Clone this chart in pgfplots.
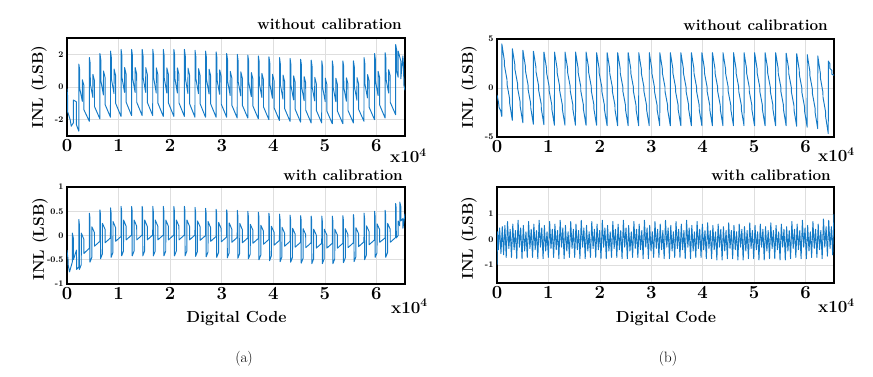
\documentclass[border=0pt]{standalone}
\usepackage{fontspec}
\usepackage{pgfplots}
\pgfplotsset{compat=1.18}
\definecolor{mblue}{RGB}{20,122,198}
\definecolor{gridgray}{RGB}{222,222,222}
\newcommand\ttl{\fontsize{15.3}{16}\selectfont\bfseries}
\newcommand\ylab{\fontsize{15.5}{16}\selectfont\bfseries}
\newcommand\xlab{\fontsize{16}{17}\selectfont\bfseries}
\newcommand\xten{\fontsize{17}{18}\selectfont\bfseries}
% x axis is in units of one 2048-code period (32 periods = 65536 codes)
\pgfplotsset{inlax/.style={
  scale only axis, width=338pt,
  xmin=0, xmax=32,
  xtick={0,4.8828125,9.765625,14.6484375,19.53125,24.4140625,29.296875},
  xticklabels={0,1,2,3,4,5,6},
  grid=major, major grid style={draw=gridgray, line width=0.6pt},
  axis line style={line width=2pt},
  major tick length=0pt,
  xticklabel style={font=\fontsize{18.5}{18.5}\selectfont\bfseries},
  yticklabel style={font=\fontsize{8.6}{9}\selectfont\bfseries},
}}
\tikzset{inl/.style={draw=mblue, line width=0.95pt, mark=none, line join=round}}
\begin{document}
\begin{tikzpicture}
\path[use as bounding box] (0,0) rectangle (873pt,-377pt);
% ---------------- (a) without calibration
\begin{axis}[inlax, at={(67pt,-38pt)}, anchor=north west, height=98pt,
  ymin=-3, ymax=3, ytick={-2,0,2}, yticklabels={-2,0,2}]
\addplot[inl] coordinates {
(0,-0.1) (0.05,-0.5) (0.055,-1.5) (0.3,-2.0) (0.4,-2.4) (0.6,-2.2) (0.605,-0.8) (0.88,-0.9) (0.885,-2.3) (1.115,-2.7)
(1.12,1.4) (1.2,1.05) (1.205,-0.09) (1.45,-0.88) (1.455,0.44) (1.6,0.09) (1.605,-1.4) (2.115,-2.1)
(2.12,1.8) (2.2,1.43) (2.205,0.21) (2.45,-0.64) (2.455,0.77) (2.6,0.39) (2.605,-1.2) (3.115,-1.95)
(3.12,2.05) (3.2,1.66) (3.205,0.39) (3.45,-0.49) (3.455,0.98) (3.6,0.59) (3.605,-1.07) (4.115,-1.85)
(4.12,2.2) (4.2,1.8) (4.205,0.5) (4.45,-0.4) (4.455,1.1) (4.6,0.7) (4.605,-1.0) (5.115,-1.8)
(5.12,2.3) (5.2,1.9) (5.205,0.58) (5.45,-0.33) (5.455,1.19) (5.6,0.78) (5.605,-0.94) (6.115,-1.75)
(6.12,2.3) (6.2,1.9) (6.205,0.58) (6.45,-0.33) (6.455,1.19) (6.6,0.78) (6.605,-0.94) (7.115,-1.75)
(7.12,2.3) (7.2,1.9) (7.205,0.58) (7.45,-0.33) (7.455,1.19) (7.6,0.78) (7.605,-0.94) (8.115,-1.75)
(8.12,2.3) (8.2,1.89) (8.205,0.56) (8.45,-0.37) (8.455,1.17) (8.6,0.76) (8.605,-0.98) (9.115,-1.8)
(9.12,2.3) (9.2,1.89) (9.205,0.56) (9.45,-0.37) (9.455,1.17) (9.6,0.76) (9.605,-0.98) (10.115,-1.8)
(10.12,2.3) (10.2,1.89) (10.205,0.56) (10.45,-0.37) (10.455,1.17) (10.6,0.76) (10.605,-0.98) (11.115,-1.8)
(11.12,2.3) (11.2,1.89) (11.205,0.54) (11.45,-0.4) (11.455,1.16) (11.6,0.74) (11.605,-1.02) (12.115,-1.85)
(12.12,2.25) (12.2,1.84) (12.205,0.51) (12.45,-0.41) (12.455,1.12) (12.6,0.71) (12.605,-1.03) (13.115,-1.85)
(13.12,2.2) (13.2,1.8) (13.205,0.48) (13.45,-0.43) (13.455,1.09) (13.6,0.68) (13.605,-1.04) (14.115,-1.85)
(14.12,2.15) (14.2,1.75) (14.205,0.45) (14.45,-0.45) (14.455,1.05) (14.6,0.65) (14.605,-1.05) (15.115,-1.85)
(15.12,2.05) (15.2,1.66) (15.205,0.37) (15.45,-0.52) (15.455,0.96) (15.6,0.57) (15.605,-1.11) (16.115,-1.9)
(16.12,2.0) (16.2,1.61) (16.205,0.34) (16.45,-0.54) (16.455,0.93) (16.6,0.54) (16.605,-1.12) (17.115,-1.9)
(17.12,1.95) (17.2,1.56) (17.205,0.29) (17.45,-0.59) (17.455,0.88) (17.6,0.49) (17.605,-1.17) (18.115,-1.95)
(18.12,1.9) (18.2,1.51) (18.205,0.24) (18.45,-0.64) (18.455,0.83) (18.6,0.44) (18.605,-1.22) (19.115,-2.0)
(19.12,1.85) (19.2,1.46) (19.205,0.19) (19.45,-0.69) (19.455,0.78) (19.6,0.39) (19.605,-1.27) (20.115,-2.05)
(20.12,1.8) (20.2,1.41) (20.205,0.14) (20.45,-0.74) (20.455,0.73) (20.6,0.34) (20.605,-1.32) (21.115,-2.1)
(21.12,1.75) (21.2,1.36) (21.205,0.09) (21.45,-0.79) (21.455,0.68) (21.6,0.29) (21.605,-1.37) (22.115,-2.15)
(22.12,1.7) (22.2,1.31) (22.205,0.04) (22.45,-0.84) (22.455,0.63) (22.6,0.24) (22.605,-1.42) (23.115,-2.2)
(23.12,1.65) (23.2,1.27) (23.205,0.01) (23.45,-0.85) (23.455,0.59) (23.6,0.21) (23.605,-1.43) (24.115,-2.2)
(24.12,1.6) (24.2,1.22) (24.205,-0.04) (24.45,-0.9) (24.455,0.54) (24.6,0.16) (24.605,-1.48) (25.115,-2.25)
(25.12,1.6) (25.2,1.22) (25.205,-0.04) (25.45,-0.9) (25.455,0.54) (25.6,0.16) (25.605,-1.48) (26.115,-2.25)
(26.12,1.6) (26.2,1.22) (26.205,-0.02) (26.45,-0.87) (26.455,0.56) (26.6,0.18) (26.605,-1.44) (27.115,-2.2)
(27.12,1.6) (27.2,1.23) (27.205,0.03) (27.45,-0.81) (27.455,0.58) (27.6,0.21) (27.605,-1.36) (28.115,-2.1)
(28.12,1.8) (28.2,1.42) (28.205,0.19) (28.45,-0.67) (28.455,0.76) (28.6,0.38) (28.605,-1.24) (29.115,-2.0)
(29.12,2.05) (29.2,1.66) (29.205,0.37) (29.45,-0.52) (29.455,0.96) (29.6,0.57) (29.605,-1.11) (30.115,-1.9)
(30.12,2.1) (30.2,1.72) (30.205,0.49) (30.45,-0.37) (30.455,1.06) (30.6,0.68) (30.605,-0.94) (31.115,-1.7)
(31.12,2.6) (31.2,2.3) (31.205,1.0) (31.35,0.6) (31.355,2.2) (31.6,1.6) (31.605,0.5) (31.8,1.9) (31.85,1.4) (31.9,0.1) (32,-0.2)
};
\end{axis}
% ---------------- (a) with calibration
\begin{axis}[inlax, at={(67pt,-187pt)}, anchor=north west, height=97pt,
  ymin=-1, ymax=1, ytick={-1,-0.5,0,0.5,1}, yticklabels={-1,-0.5,0,0.5,1}]
\addplot[inl] coordinates {
(0,-0.3) (0.1,-0.5) (0.105,-0.6) (0.24,-0.75) (0.5,-0.55) (0.505,0.05) (0.6,-0.05) (0.605,-0.5) (0.9,-0.3) (0.905,-0.7) (1.115,-0.65)
(1.12,0.33) (1.17,0.23) (1.175,-0.7) (1.35,-0.6) (1.355,0.05) (1.6,-0.08) (1.605,-0.37) (2.115,-0.26)
(2.12,0.46) (2.17,0.36) (2.175,-0.55) (2.35,-0.45) (2.355,0.18) (2.6,0.06) (2.605,-0.22) (3.115,-0.12)
(3.12,0.53) (3.17,0.43) (3.175,-0.48) (3.35,-0.38) (3.355,0.25) (3.6,0.13) (3.605,-0.15) (4.115,-0.05)
(4.12,0.57) (4.17,0.47) (4.175,-0.45) (4.35,-0.35) (4.355,0.29) (4.6,0.16) (4.605,-0.12) (5.115,-0.02)
(5.12,0.6) (5.17,0.5) (5.175,-0.42) (5.35,-0.32) (5.355,0.32) (5.6,0.19) (5.605,-0.09) (6.115,0.01)
(6.12,0.6) (6.17,0.5) (6.175,-0.42) (6.35,-0.32) (6.355,0.32) (6.6,0.19) (6.605,-0.09) (7.115,0.01)
(7.12,0.6) (7.17,0.5) (7.175,-0.42) (7.35,-0.32) (7.355,0.32) (7.6,0.19) (7.605,-0.09) (8.115,0.01)
(8.12,0.6) (8.17,0.5) (8.175,-0.42) (8.35,-0.32) (8.355,0.32) (8.6,0.19) (8.605,-0.09) (9.115,0.01)
(9.12,0.6) (9.17,0.5) (9.175,-0.42) (9.35,-0.32) (9.355,0.32) (9.6,0.19) (9.605,-0.09) (10.115,0.01)
(10.12,0.6) (10.17,0.5) (10.175,-0.42) (10.35,-0.32) (10.355,0.32) (10.6,0.19) (10.605,-0.09) (11.115,0.01)
(11.12,0.6) (11.17,0.5) (11.175,-0.42) (11.35,-0.32) (11.355,0.32) (11.6,0.19) (11.605,-0.09) (12.115,0.01)
(12.12,0.58) (12.17,0.48) (12.175,-0.43) (12.35,-0.33) (12.355,0.3) (12.6,0.18) (12.605,-0.1) (13.115,0.0)
(13.12,0.56) (13.17,0.46) (13.175,-0.44) (13.35,-0.34) (13.355,0.29) (13.6,0.16) (13.605,-0.12) (14.115,-0.02)
(14.12,0.54) (14.17,0.44) (14.175,-0.45) (14.35,-0.35) (14.355,0.27) (14.6,0.14) (14.605,-0.13) (15.115,-0.03)
(15.12,0.53) (15.17,0.43) (15.175,-0.46) (15.35,-0.36) (15.355,0.26) (15.6,0.13) (15.605,-0.14) (16.115,-0.04)
(16.12,0.52) (16.17,0.42) (16.175,-0.47) (16.35,-0.37) (16.355,0.25) (16.6,0.12) (16.605,-0.15) (17.115,-0.05)
(17.12,0.5) (17.17,0.4) (17.175,-0.48) (17.35,-0.38) (17.355,0.23) (17.6,0.11) (17.605,-0.16) (18.115,-0.06)
(18.12,0.48) (18.17,0.38) (18.175,-0.5) (18.35,-0.4) (18.355,0.21) (18.6,0.09) (18.605,-0.18) (19.115,-0.08)
(19.12,0.46) (19.17,0.36) (19.175,-0.52) (19.35,-0.42) (19.355,0.19) (19.6,0.07) (19.605,-0.2) (20.115,-0.1)
(20.12,0.44) (20.17,0.34) (20.175,-0.54) (20.35,-0.44) (20.355,0.17) (20.6,0.05) (20.605,-0.22) (21.115,-0.12)
(21.12,0.42) (21.17,0.32) (21.175,-0.55) (21.35,-0.45) (21.355,0.15) (21.6,0.03) (21.605,-0.24) (22.115,-0.14)
(22.12,0.41) (22.17,0.31) (22.175,-0.57) (22.35,-0.47) (22.355,0.14) (22.6,0.02) (22.605,-0.25) (23.115,-0.15)
(23.12,0.4) (23.17,0.3) (23.175,-0.58) (23.35,-0.48) (23.355,0.13) (23.6,0.01) (23.605,-0.26) (24.115,-0.16)
(24.12,0.4) (24.17,0.3) (24.175,-0.58) (24.35,-0.48) (24.355,0.13) (24.6,0.01) (24.605,-0.26) (25.115,-0.16)
(25.12,0.4) (25.17,0.3) (25.175,-0.58) (25.35,-0.48) (25.355,0.13) (25.6,0.01) (25.605,-0.26) (26.115,-0.16)
(26.12,0.41) (26.17,0.31) (26.175,-0.56) (26.35,-0.46) (26.355,0.14) (26.6,0.02) (26.605,-0.25) (27.115,-0.15)
(27.12,0.43) (27.17,0.33) (27.175,-0.54) (27.35,-0.44) (27.355,0.16) (27.6,0.04) (27.605,-0.23) (28.115,-0.13)
(28.12,0.46) (28.17,0.36) (28.175,-0.5) (28.35,-0.4) (28.355,0.2) (28.6,0.08) (28.605,-0.19) (29.115,-0.09)
(29.12,0.5) (29.17,0.4) (29.175,-0.45) (29.35,-0.36) (29.355,0.24) (29.6,0.12) (29.605,-0.14) (30.115,-0.05)
(30.12,0.52) (30.17,0.42) (30.175,-0.45) (30.35,-0.35) (30.355,0.25) (30.6,0.13) (30.605,-0.14) (31.115,-0.04)
(31.12,0.66) (31.17,0.55) (31.175,-0.05) (31.35,0.0) (31.355,0.3) (31.5,0.2) (31.505,0.69) (31.6,0.6) (31.605,0.3) (31.8,0.35) (31.805,0.15) (32,0.45)
};
\end{axis}
% ---------------- (b) without calibration
\begin{axis}[inlax, at={(497pt,-39pt)}, anchor=north west, width=337pt, height=98pt,
  ymin=-5, ymax=5, ytick={-5,0,5}, yticklabels={-5,0,5}]
\addplot[inl] coordinates {
(0,-0.7) (0.15,-1.5) (0.2,-2.0) (0.35,-2.3) (0.455,-2.9)
(0.46,4.5) (0.7,2.78) (0.705,2.32) (0.95,0.83) (0.955,0.37) (1.2,-1.12) (1.205,-1.58) (1.455,-3.3)
(1.46,4.0) (1.7,2.34) (1.705,1.89) (1.95,0.45) (1.955,0.0) (2.2,-1.44) (2.205,-1.89) (2.455,-3.55)
(2.46,3.85) (2.7,2.19) (2.705,1.74) (2.95,0.3) (2.955,-0.15) (3.2,-1.59) (3.205,-2.04) (3.455,-3.7)
(3.46,3.75) (3.7,2.1) (3.705,1.65) (3.95,0.23) (3.955,-0.23) (4.2,-1.65) (4.205,-2.1) (4.455,-3.75)
(4.46,3.67) (4.7,2.03) (4.705,1.58) (4.95,0.16) (4.955,-0.29) (5.2,-1.71) (5.205,-2.16) (5.455,-3.8)
(5.46,3.67) (5.7,2.03) (5.705,1.58) (5.95,0.16) (5.955,-0.29) (6.2,-1.71) (6.205,-2.16) (6.455,-3.8)
(6.46,3.67) (6.7,2.03) (6.705,1.58) (6.95,0.16) (6.955,-0.29) (7.2,-1.71) (7.205,-2.16) (7.455,-3.8)
(7.46,3.67) (7.7,2.03) (7.705,1.58) (7.95,0.16) (7.955,-0.29) (8.2,-1.71) (8.205,-2.16) (8.455,-3.8)
(8.46,3.67) (8.7,2.03) (8.705,1.58) (8.95,0.16) (8.955,-0.29) (9.2,-1.71) (9.205,-2.16) (9.455,-3.8)
(9.46,3.6) (9.7,1.96) (9.705,1.51) (9.95,0.1) (9.955,-0.35) (10.2,-1.76) (10.205,-2.21) (10.455,-3.85)
(10.46,3.6) (10.7,1.96) (10.705,1.51) (10.95,0.1) (10.955,-0.35) (11.2,-1.76) (11.205,-2.21) (11.455,-3.85)
(11.46,3.6) (11.7,1.96) (11.705,1.51) (11.95,0.1) (11.955,-0.35) (12.2,-1.76) (12.205,-2.21) (12.455,-3.85)
(12.46,3.6) (12.7,1.96) (12.705,1.51) (12.95,0.1) (12.955,-0.35) (13.2,-1.76) (13.205,-2.21) (13.455,-3.85)
(13.46,3.6) (13.7,1.96) (13.705,1.51) (13.95,0.1) (13.955,-0.35) (14.2,-1.76) (14.205,-2.21) (14.455,-3.85)
(14.46,3.6) (14.7,1.96) (14.705,1.51) (14.95,0.1) (14.955,-0.35) (15.2,-1.76) (15.205,-2.21) (15.455,-3.85)
(15.46,3.6) (15.7,1.96) (15.705,1.51) (15.95,0.1) (15.955,-0.35) (16.2,-1.76) (16.205,-2.21) (16.455,-3.85)
(16.46,3.6) (16.7,1.96) (16.705,1.51) (16.95,0.1) (16.955,-0.35) (17.2,-1.76) (17.205,-2.21) (17.455,-3.85)
(17.46,3.6) (17.7,1.96) (17.705,1.51) (17.95,0.1) (17.955,-0.35) (18.2,-1.76) (18.205,-2.21) (18.455,-3.85)
(18.46,3.6) (18.7,1.96) (18.705,1.51) (18.95,0.1) (18.955,-0.35) (19.2,-1.76) (19.205,-2.21) (19.455,-3.85)
(19.46,3.6) (19.7,1.96) (19.705,1.51) (19.95,0.1) (19.955,-0.35) (20.2,-1.76) (20.205,-2.21) (20.455,-3.85)
(20.46,3.6) (20.7,1.96) (20.705,1.51) (20.95,0.1) (20.955,-0.35) (21.2,-1.76) (21.205,-2.21) (21.455,-3.85)
(21.46,3.6) (21.7,1.96) (21.705,1.51) (21.95,0.1) (21.955,-0.35) (22.2,-1.76) (22.205,-2.21) (22.455,-3.85)
(22.46,3.6) (22.7,1.96) (22.705,1.51) (22.95,0.1) (22.955,-0.35) (23.2,-1.76) (23.205,-2.21) (23.455,-3.85)
(23.46,3.6) (23.7,1.96) (23.705,1.51) (23.95,0.1) (23.955,-0.35) (24.2,-1.76) (24.205,-2.21) (24.455,-3.85)
(24.46,3.6) (24.7,1.96) (24.705,1.51) (24.95,0.1) (24.955,-0.35) (25.2,-1.76) (25.205,-2.21) (25.455,-3.85)
(25.46,3.6) (25.7,1.96) (25.705,1.51) (25.95,0.1) (25.955,-0.35) (26.2,-1.76) (26.205,-2.21) (26.455,-3.85)
(26.46,3.6) (26.7,1.96) (26.705,1.51) (26.95,0.1) (26.955,-0.35) (27.2,-1.76) (27.205,-2.21) (27.455,-3.85)
(27.46,3.55) (27.7,1.91) (27.705,1.46) (27.95,0.05) (27.955,-0.4) (28.2,-1.81) (28.205,-2.26) (28.455,-3.9)
(28.46,3.5) (28.7,1.85) (28.705,1.4) (28.95,-0.03) (28.955,-0.48) (29.2,-1.9) (29.205,-2.35) (29.455,-4.0)
(29.46,3.4) (29.7,1.74) (29.705,1.29) (29.95,-0.15) (29.955,-0.6) (30.2,-2.04) (30.205,-2.49) (30.455,-4.15)
(30.46,3.27) (30.7,1.53) (30.705,1.05) (30.95,-0.45) (30.955,-0.93) (31.2,-2.43) (31.205,-2.91) (31.455,-4.65)
(31.46,2.75) (31.6,2.5) (31.605,2.0) (31.8,1.8) (31.805,1.4) (32,1.3)
};
\end{axis}
% ---------------- (b) with calibration
\begin{axis}[inlax, at={(497pt,-187pt)}, anchor=north west, width=337pt, height=96pt,
  ymin=-1.7, ymax=2.05, ytick={-1,0,1}, yticklabels={-1,0,1}]
\addplot[inl] coordinates {
(0,-1.0) (0.0625,0.3) (0.125,-0.4) (0.25,0.45) (0.375,-0.55) (0.5,0.5) (0.625,-0.6) (0.75,0.55) (0.875,-0.7)
(1,0.7) (1.125,-0.35) (1.25,0.4) (1.375,-0.7) (1.5,0.6) (1.625,-0.4) (1.75,0.35) (1.875,-0.75)
(2,0.75) (2.125,-0.3) (2.25,0.45) (2.375,-0.75) (2.5,0.55) (2.625,-0.45) (2.75,0.3) (2.875,-0.7)
(3,0.7) (3.125,-0.35) (3.25,0.4) (3.375,-0.7) (3.5,0.6) (3.625,-0.4) (3.75,0.35) (3.875,-0.75)
(4,0.75) (4.125,-0.3) (4.25,0.45) (4.375,-0.75) (4.5,0.55) (4.625,-0.45) (4.75,0.3) (4.875,-0.7)
(5,0.7) (5.125,-0.35) (5.25,0.4) (5.375,-0.7) (5.5,0.6) (5.625,-0.4) (5.75,0.35) (5.875,-0.75)
(6,0.75) (6.125,-0.3) (6.25,0.45) (6.375,-0.75) (6.5,0.55) (6.625,-0.45) (6.75,0.3) (6.875,-0.7)
(7,0.7) (7.125,-0.35) (7.25,0.4) (7.375,-0.7) (7.5,0.6) (7.625,-0.4) (7.75,0.35) (7.875,-0.75)
(8,0.75) (8.125,-0.3) (8.25,0.45) (8.375,-0.75) (8.5,0.55) (8.625,-0.45) (8.75,0.3) (8.875,-0.7)
(9,0.7) (9.125,-0.35) (9.25,0.4) (9.375,-0.7) (9.5,0.6) (9.625,-0.4) (9.75,0.35) (9.875,-0.75)
(10,0.75) (10.125,-0.3) (10.25,0.45) (10.375,-0.75) (10.5,0.55) (10.625,-0.45) (10.75,0.3) (10.875,-0.7)
(11,0.7) (11.125,-0.35) (11.25,0.4) (11.375,-0.7) (11.5,0.6) (11.625,-0.4) (11.75,0.35) (11.875,-0.75)
(12,0.75) (12.125,-0.3) (12.25,0.45) (12.375,-0.75) (12.5,0.55) (12.625,-0.45) (12.75,0.3) (12.875,-0.7)
(13,0.7) (13.125,-0.35) (13.25,0.4) (13.375,-0.7) (13.5,0.6) (13.625,-0.4) (13.75,0.35) (13.875,-0.75)
(14,0.75) (14.125,-0.3) (14.25,0.45) (14.375,-0.75) (14.5,0.55) (14.625,-0.45) (14.75,0.3) (14.875,-0.7)
(15,0.7) (15.125,-0.35) (15.25,0.4) (15.375,-0.7) (15.5,0.6) (15.625,-0.4) (15.75,0.35) (15.875,-0.75)
(16,0.75) (16.125,-0.3) (16.25,0.45) (16.375,-0.75) (16.5,0.55) (16.625,-0.45) (16.75,0.3) (16.875,-0.7)
(17,0.7) (17.125,-0.35) (17.25,0.4) (17.375,-0.7) (17.5,0.6) (17.625,-0.4) (17.75,0.35) (17.875,-0.75)
(18,0.75) (18.125,-0.3) (18.25,0.45) (18.375,-0.75) (18.5,0.55) (18.625,-0.45) (18.75,0.3) (18.875,-0.7)
(19,0.7) (19.125,-0.35) (19.25,0.4) (19.375,-0.7) (19.5,0.6) (19.625,-0.4) (19.75,0.35) (19.875,-0.75)
(20,0.65) (20.125,-0.35) (20.25,0.35) (20.375,-0.75) (20.5,0.55) (20.625,-0.4) (20.75,0.3) (20.875,-0.8)
(21,0.6) (21.125,-0.3) (21.25,0.4) (21.375,-0.8) (21.5,0.5) (21.625,-0.45) (21.75,0.35) (21.875,-0.75)
(22,0.65) (22.125,-0.35) (22.25,0.35) (22.375,-0.75) (22.5,0.55) (22.625,-0.4) (22.75,0.3) (22.875,-0.8)
(23,0.6) (23.125,-0.3) (23.25,0.4) (23.375,-0.8) (23.5,0.5) (23.625,-0.45) (23.75,0.35) (23.875,-0.75)
(24,0.65) (24.125,-0.35) (24.25,0.35) (24.375,-0.75) (24.5,0.55) (24.625,-0.4) (24.75,0.3) (24.875,-0.8)
(25,0.6) (25.125,-0.3) (25.25,0.4) (25.375,-0.8) (25.5,0.5) (25.625,-0.45) (25.75,0.35) (25.875,-0.75)
(26,0.65) (26.125,-0.35) (26.25,0.35) (26.375,-0.75) (26.5,0.55) (26.625,-0.4) (26.75,0.3) (26.875,-0.8)
(27,0.6) (27.125,-0.3) (27.25,0.4) (27.375,-0.8) (27.5,0.5) (27.625,-0.45) (27.75,0.35) (27.875,-0.75)
(28,0.7) (28.125,-0.35) (28.25,0.4) (28.375,-0.7) (28.5,0.6) (28.625,-0.4) (28.75,0.35) (28.875,-0.75)
(29,0.75) (29.125,-0.3) (29.25,0.45) (29.375,-0.75) (29.5,0.55) (29.625,-0.45) (29.75,0.3) (29.875,-0.7)
(30,0.7) (30.125,-0.35) (30.25,0.4) (30.375,-0.7) (30.5,0.6) (30.625,-0.4) (30.75,0.35) (30.875,-0.75)
(31,0.8) (31.125,-0.3) (31.25,0.5) (31.375,-0.65) (31.5,0.75) (31.625,-0.35) (31.75,0.5) (31.875,-0.6)
(32,1.0)
};
\end{axis}
% ---------------- labels
\node[anchor=base east, font=\ttl, inner sep=0pt] at (402pt,-30pt) {without calibration};
\node[anchor=base east, font=\ttl, inner sep=0pt] at (828pt,-31pt) {without calibration};
\node[anchor=base east, font=\ttl, inner sep=0pt] at (403pt,-181pt) {with calibration};
\node[anchor=base east, font=\ttl, inner sep=0pt] at (831pt,-181pt) {with calibration};
\node[rotate=90, font=\ylab, inner sep=0pt] at (39pt,-87pt) {INL (LSB)};
\node[rotate=90, font=\ylab, inner sep=0pt] at (40pt,-239pt) {INL (LSB)};
\node[rotate=90, font=\ylab, inner sep=0pt] at (469pt,-87pt) {INL (LSB)};
\node[rotate=90, font=\ylab, inner sep=0pt] at (469pt,-238pt) {INL (LSB)};
\node[anchor=base west, font=\xten, inner sep=0pt] at (390pt,-163pt) {x10\textsuperscript{4}};
\node[anchor=base west, font=\xten, inner sep=0pt] at (818pt,-162pt) {x10\textsuperscript{4}};
\node[anchor=base west, font=\xten, inner sep=0pt] at (391pt,-313pt) {x10\textsuperscript{4}};
\node[anchor=base west, font=\xten, inner sep=0pt] at (818pt,-312.5pt) {x10\textsuperscript{4}};
\node[anchor=base, font=\xlab, inner sep=0pt] at (236.5pt,-322.5pt) {Digital Code};
\node[anchor=base, font=\xlab, inner sep=0pt] at (666pt,-322.5pt) {Digital Code};
\node[anchor=base, font=\fontsize{15}{16}\selectfont, inner sep=0pt] at (244pt,-362pt) {(a)};
\node[anchor=base, font=\fontsize{15}{16}\selectfont, inner sep=0pt] at (668pt,-362pt) {(b)};
\end{tikzpicture}
\end{document}
